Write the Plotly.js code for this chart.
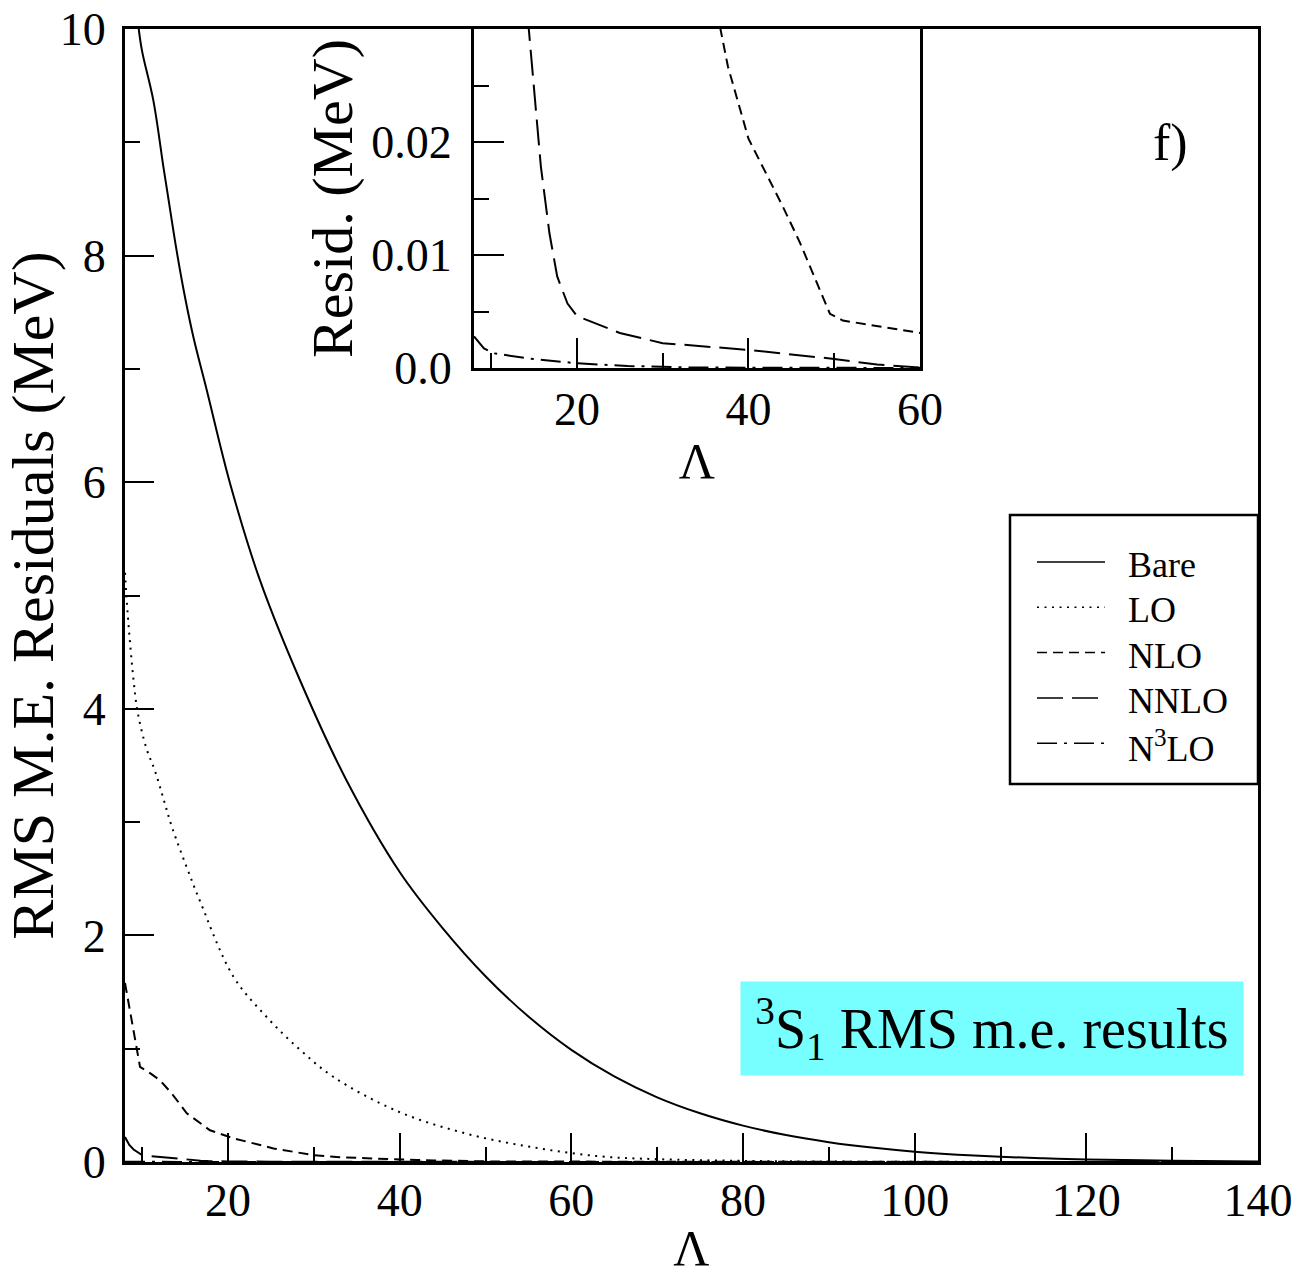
<!DOCTYPE html>
<html><head><meta charset="utf-8">
<script src="https://cdn.plot.ly/plotly-3.0.1.min.js"></script>
<style>html,body{margin:0;padding:0;background:#fff}#chart{width:1296px;height:1276px}</style>
</head><body><div id="chart"></div>
<script>
// ---- data ----
const seriesNames = ['Bare', 'LO', 'NLO', 'NNLO', 'N<sup>3</sup>LO'];

const bareX = [9.6, 10, 11.3, 12.5, 13, 14, 15, 16, 17.5, 20.2, 23.7, 28.4, 33.8, 40, 45, 50, 55, 60, 65, 70, 75, 80, 85, 90, 95, 100, 105, 110, 115, 120, 130, 140];
const bareY = [10.0, 9.8, 9.37, 8.77, 8.53, 8.05, 7.63, 7.27, 6.82, 6.0, 5.14, 4.25, 3.37, 2.56, 2.065, 1.64, 1.284, 0.99, 0.756, 0.571, 0.43, 0.321, 0.238, 0.175, 0.127, 0.091, 0.065, 0.046, 0.033, 0.023, 0.011, 0.005];

const loX = [8, 8.3, 9, 9.5, 10.5, 11.5, 12.5, 13.5, 15.6, 16.7, 20.6, 24.5, 28.4, 32.3, 40, 47.8, 55.5, 63.3, 70, 80, 90, 100, 120, 140];
const loY = [5.2, 4.85, 4.25, 3.96, 3.65, 3.45, 3.2, 2.95, 2.52, 2.31, 1.64, 1.28, 0.99, 0.75, 0.44, 0.25, 0.13, 0.05, 0.025, 0.01, 0.004, 0.002, 0.0005, 0.0001];

const nloX = [8, 9.75, 11, 12.1, 13.5, 15.2, 17.9, 20.6, 25.3, 30, 33, 36.76, 37.6, 40, 42, 44, 46, 48, 49.5, 51, 55, 60, 70, 80, 100, 120, 140];
const nloY = [1.58, 0.84, 0.78, 0.72, 0.6, 0.43, 0.28, 0.21, 0.12, 0.06, 0.042, 0.0299, 0.0267, 0.0203, 0.0173, 0.0143, 0.0111, 0.0075, 0.0048, 0.0042, 0.0037, 0.0031, 0.0022, 0.0015, 0.0007, 0.0003, 0.0001];

const nnloX = [8, 8.5, 9, 9.9, 11, 12.5, 14.4, 15.1, 15.8, 16.8, 17.7, 18.9, 20, 25, 30, 40, 50, 55, 60, 80, 140];
const nnloY = [0.22, 0.15, 0.11, 0.065, 0.052, 0.04, 0.0299, 0.0237, 0.0178, 0.0119, 0.0081, 0.0057, 0.0046, 0.0031, 0.0022, 0.0016, 0.0008, 0.0003, 0.00005, 0.00002, 0];

const n3loX = [8, 8.38, 9.16, 10.3, 14.2, 20.1, 25.9, 33.7, 45, 60, 140];
const n3loY = [0.0028, 0.00248, 0.00174, 0.0013, 0.00086, 0.00041, 0.00018, 0.00004, 0.00001, 0, 0];

const mainXTicks = [20, 40, 60, 80, 100, 120, 140];
const mainYTicks = [0, 2, 4, 6, 8, 10];
const insetYTickVals = [0, 0.01, 0.02];
const insetYTickText = ['0.0', '0.01', '0.02'];

// ---- layout helpers ----
const W = 1296, H = 1276, ML = 125, MR = 38, MT = 29, MB = 114;
const PW = W - ML - MR, PH = H - MT - MB;
const fx = px => (px - ML) / PW;
const fy = py => (H - MB - py) / PH;

const FONT = 'Liberation Serif, Times New Roman, serif';
const dashes = ['solid', '2px,5.5px', '10px,6px', '26px,9px', '20px,7px,3px,7px'];
const shapesOf = ['spline', 'spline', 'linear', 'linear', 'linear'];
const xs = [bareX, loX, nloX, nnloX, n3loX];
const ys = [bareY, loY, nloY, nnloY, n3loY];

const traces = [];
for (let i = 0; i < 5; i++) {
  traces.push({x: xs[i], y: ys[i], type: 'scatter', mode: 'lines', name: seriesNames[i],
    xaxis: 'x', yaxis: 'y', showlegend: false,
    line: {color: '#000', width: 2, dash: dashes[i], shape: shapesOf[i], smoothing: 1}});
}
for (let i = 2; i < 5; i++) {
  traces.push({x: xs[i], y: ys[i], type: 'scatter', mode: 'lines', name: seriesNames[i] + ' (inset)',
    xaxis: 'x2', yaxis: 'y2', showlegend: false,
    line: {color: '#000', width: 2, dash: dashes[i], shape: shapesOf[i]}});
}

const axCommon = {showline: true, linewidth: 3, linecolor: '#000', mirror: true,
  ticks: 'inside', tickwidth: 2, tickcolor: '#000', showgrid: false, zeroline: false,
  tickfont: {family: FONT, size: 46, color: '#000'}};

const shapes = [];
const annotations = [];
// legend box
shapes.push({type: 'rect', xref: 'paper', yref: 'paper', x0: fx(1010), x1: fx(1258), y0: fy(784), y1: fy(515),
  line: {color: '#000', width: 2.5}, fillcolor: '#fff'});
for (let i = 0; i < 5; i++) {
  const ly = 562 + 45.3 * i;
  shapes.push({type: 'line', xref: 'paper', yref: 'paper', x0: fx(1037), x1: fx(1105), y0: fy(ly), y1: fy(ly),
    line: {color: '#000', width: 1.5, dash: dashes[i]}});
  annotations.push({xref: 'paper', yref: 'paper', x: fx(1126), y: fy(ly + 3), xanchor: 'left', yanchor: 'middle',
    text: seriesNames[i], showarrow: false, font: {family: FONT, size: 36, color: '#000'}});
}
annotations.push({xref: 'paper', yref: 'paper', x: fx(992), y: fy(1028.5), xanchor: 'center', yanchor: 'middle',
  width: 502, height: 93, borderpad: 0, bgcolor: '#77ffff', showarrow: false,
  text: '<sup>3</sup>S<sub>1</sub> RMS m.e. results', font: {family: FONT, size: 56, color: '#000'}});
annotations.push({xref: 'paper', yref: 'paper', x: fx(1170), y: fy(143), xanchor: 'center', yanchor: 'middle',
  showarrow: false, text: 'f)', font: {family: FONT, size: 52, color: '#000'}});

const layout = {
  width: W, height: H,
  margin: {l: ML, r: MR, t: MT, b: MB},
  paper_bgcolor: '#fff', plot_bgcolor: '#fff',
  font: {family: FONT, size: 46, color: '#000'},
  showlegend: false,
  xaxis: Object.assign({}, axCommon, {domain: [0, 1], anchor: 'y', range: [8, 140],
    tickmode: 'array', tickvals: mainXTicks, ticklen: 29, ticklabelstandoff: -4,
    minor: {ticks: 'inside', ticklen: 15, tickwidth: 2, tickcolor: '#000', dtick: 10, tick0: 0},
    title: {text: 'Λ', font: {family: FONT, size: 50, color: '#000'}, standoff: 31}}),
  yaxis: Object.assign({}, axCommon, {domain: [0, 1], anchor: 'x', range: [0, 10],
    tickmode: 'array', tickvals: mainYTicks, ticklen: 29, ticklabelstandoff: 7,
    minor: {ticks: 'inside', ticklen: 15, tickwidth: 2, tickcolor: '#000', dtick: 1, tick0: 0},
    title: {text: 'RMS M.E. Residuals (MeV)', font: {family: FONT, size: 60, color: '#000'}, standoff: 0}}),
  xaxis2: Object.assign({}, axCommon, {domain: [fx(474), fx(920)], anchor: 'y2', range: [8, 60],
    tickmode: 'linear', tick0: 0, dtick: 20, ticklen: 30, ticklabelstandoff: -1,
    minor: {ticks: 'inside', ticklen: 15, tickwidth: 2, tickcolor: '#000', dtick: 10, tick0: 0},
    title: {text: 'Λ', font: {family: FONT, size: 50, color: '#000'}, standoff: 9}}),
  yaxis2: Object.assign({}, axCommon, {domain: [fy(368), 1], anchor: 'x2', range: [0, 0.03],
    tickmode: 'array', tickvals: insetYTickVals, ticktext: insetYTickText, ticklen: 30, ticklabelstandoff: 10,
    minor: {ticks: 'inside', ticklen: 15, tickwidth: 2, tickcolor: '#000', dtick: 0.005, tick0: 0},
    title: {text: 'Resid. (MeV)', font: {family: FONT, size: 58, color: '#000'}, standoff: 0}}),
  shapes: shapes,
  annotations: annotations
};

Plotly.newPlot('chart', traces, layout, {staticPlot: true, displayModeBar: false});
</script>
</body></html>
